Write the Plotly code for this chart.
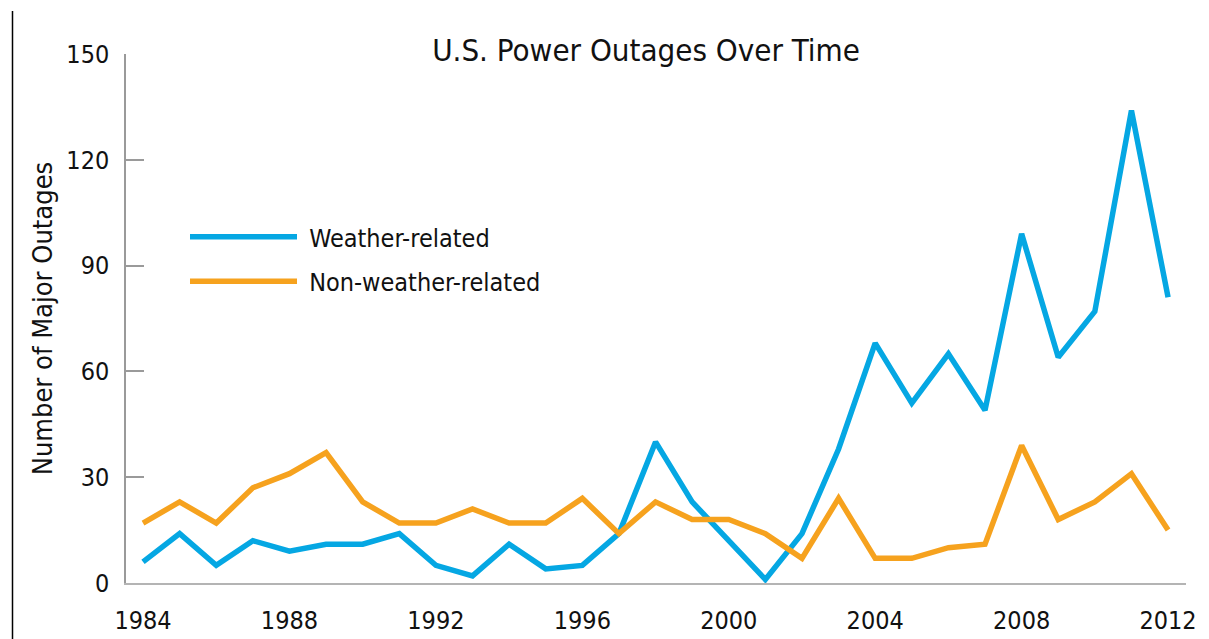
import plotly.graph_objects as go

years = list(range(1984, 2013))
weather = [6, 14, 5, 12, 9, 11, 11, 14, 5, 2, 11, 4, 5, 14, 40, 23, 12, 1, 14, 38,
           68, 51, 65, 49, 99, 64, 77, 134, 81]
non_weather = [17, 23, 17, 27, 31, 37, 23, 17, 17, 21, 17, 17, 24, 14, 23, 18, 18, 14, 7, 24,
               7, 7, 10, 11, 39, 18, 23, 31, 15]
x_ticks = [1984, 1988, 1992, 1996, 2000, 2004, 2008, 2012]
y_ticks = [0, 30, 60, 90, 120, 150]

FONT = "DejaVu Sans Condensed, Liberation Sans Narrow, sans-serif"
BLUE = "#05a7e3"
ORANGE = "#f6a21e"

O = 8  # page body margin
W, H = 1209 - O, 639 - O
# plot area in screen pixels: x 126..1186, y 54..583
L = 126 - O
T = 54 - O
R = W - (1186 - O)
B = H - (583 - O)
pw, ph = W - L - R, H - T - B

def px_x(p):
    return (p - O - L) / pw

def px_y(p):
    return 1 - (p - O - T) / ph

fig = go.Figure()
fig.add_trace(go.Scatter(x=years, y=weather, mode="lines", name="\u00a0Weather-related",
                         legendgroup="a", line=dict(color=BLUE, width=5.5)))
fig.add_trace(go.Scatter(x=years, y=non_weather, mode="lines", name="\u00a0Non-weather-related",
                         legendgroup="b", line=dict(color=ORANGE, width=5.5)))

fig.update_layout(
    width=W, height=H,
    margin=dict(l=L, r=R, t=T, b=B, pad=0, autoexpand=False),
    paper_bgcolor="white", plot_bgcolor="white",
    font=dict(family=FONT, color="#111111"),
    title=dict(text="U.S. Power Outages Over Time", font=dict(size=31, family=FONT, color="#111"),
               x=px_x(646), xref="paper", xanchor="center",
               y=1 - (50 - O) / H, yref="container", yanchor="middle"),
    showlegend=True,
    legend=dict(x=px_x(185), y=px_y(214), xanchor="left", yanchor="top",
                font=dict(size=25, family=FONT, color="#111"),
                itemwidth=107, bgcolor="rgba(0,0,0,0)", tracegroupgap=9,
                traceorder="grouped"),
    xaxis=dict(range=[1983.535, 2012.49], tickvals=x_ticks, ticks="", showgrid=False,
               zeroline=False, showline=True, linecolor="#b4b4b4", linewidth=2,
               automargin=False,
               tickfont=dict(size=25, family=FONT, color="#111"), ticklabelstandoff=14),
    yaxis=dict(range=[0, 150], tickvals=y_ticks, ticks="inside", ticklen=18, tickwidth=1.5,
               tickcolor="#9a9a9a", showgrid=False, zeroline=False, showline=True,
               linecolor="#9a9a9a", linewidth=1.5, automargin=False,
               tickfont=dict(size=25, family=FONT, color="#111"), ticklabelstandoff=10,
               title=dict(text="Number of Major Outages", font=dict(size=27, family=FONT, color="#111"),
                          standoff=6)),
    shapes=[
        dict(type="line", xref="paper", yref="paper", x0=px_x(12.5), x1=px_x(12.5),
             y0=px_y(11), y1=px_y(650), line=dict(color="#000", width=1.5)),
        dict(type="rect", xref="paper", yref="paper", x0=px_x(1205), x1=px_x(1215),
             y0=px_y(11), y1=px_y(650), line=dict(width=0), fillcolor="#ececec"),
    ],
)

fig.write_html("out.html")
